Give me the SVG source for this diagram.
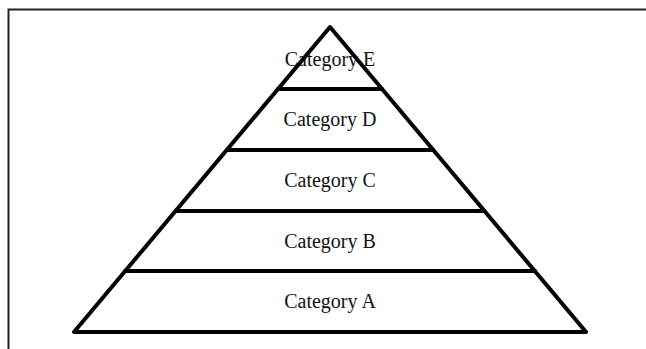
<svg xmlns="http://www.w3.org/2000/svg" width="646" height="349" viewBox="0 0 646 349">
<style>
.frame{fill:none;stroke:#222;stroke-width:2}
.edge{fill:none;stroke:#000;stroke-width:4;stroke-linejoin:round;stroke-linecap:round}
.lbl{font-family:"Liberation Serif","Times New Roman",serif;font-size:20px;fill:#111;text-anchor:middle}
</style>
<rect width="646" height="349" fill="#fff"/>
<path class="frame" d="M8.5,349 V9.5 H646"/>
<g id="connectors">
<path class="edge" d="M330,27 L586,332 L74,332 Z"/>
<line class="edge" x1="278" y1="89" x2="382" y2="89"/>
<line class="edge" x1="227" y1="150" x2="433" y2="150"/>
<line class="edge" x1="176" y1="211" x2="484" y2="211"/>
<line class="edge" x1="125" y1="271" x2="535" y2="271"/>
</g>
<g id="catE"><text class="lbl" x="330" y="66">Category E</text></g>
<g id="catD"><text class="lbl" x="330" y="126">Category D</text></g>
<g id="catC"><text class="lbl" x="330" y="187">Category C</text></g>
<g id="catB"><text class="lbl" x="330" y="248">Category B</text></g>
<g id="catA"><text class="lbl" x="330" y="308">Category A</text></g>
</svg>
